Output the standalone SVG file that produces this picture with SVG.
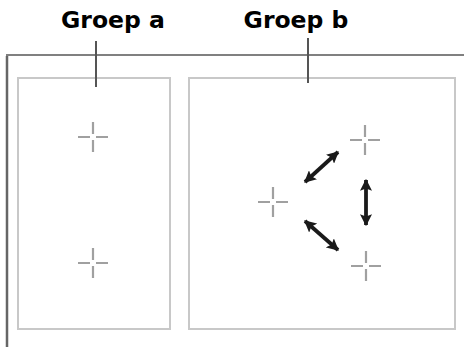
<svg xmlns="http://www.w3.org/2000/svg" width="464" height="347" viewBox="0 0 464 347">
<style>
.lbl{font-family:"DejaVu Sans",Verdana,sans-serif;font-weight:bold;font-size:23.5px;fill:#000;text-anchor:middle}
.box{fill:#fff;stroke:#c8c8c8;stroke-width:2}
.tick{stroke:#555;stroke-width:2}
.cross{stroke:#a0a0a0;stroke-width:2.2;fill:none}
.arr{stroke:#1a1a1a;stroke-width:3.8;fill:none;marker-start:url(#ah);marker-end:url(#ah)}
</style>
<defs>
<marker id="ah" viewBox="0 0 10 10" refX="9" refY="5" markerWidth="12" markerHeight="12" markerUnits="userSpaceOnUse" orient="auto-start-reverse">
<path d="M0,0 L10,5 L0,10 L2,5 z" fill="#1a1a1a"/>
</marker>
<g id="cr">
<path class="cross" d="M-15,0 H-3 M3,0 H15 M0,-15 V-3 M0,3 V15"/>
</g>
</defs>
<rect width="464" height="347" fill="#fff"/>
<g id="frame">
<path d="M7,347 V55 H464" fill="none" stroke="#808080" stroke-width="2"/>
<path d="M7,347 V56" fill="none" stroke="#666" stroke-width="2.5"/>
</g>
<g id="groep-a">
<rect class="box" x="18" y="78" width="152" height="251"/>
<use href="#cr" x="93" y="137"/>
<use href="#cr" x="93" y="263"/>
</g>
<g id="groep-b">
<rect class="box" x="189" y="78" width="266" height="251"/>
<use href="#cr" x="365" y="140"/>
<use href="#cr" x="273" y="202"/>
<use href="#cr" x="366" y="266"/>
</g>
<g id="labels">
<line class="tick" x1="96" y1="41" x2="96" y2="87"/>
<line class="tick" x1="308" y1="38" x2="308" y2="83"/>
<text class="lbl" x="113" y="28">Groep a</text>
<text class="lbl" x="296" y="28">Groep b</text>
</g>
<g id="connectors">
<line class="arr" x1="305" y1="182" x2="338" y2="152"/>
<line class="arr" x1="305" y1="221" x2="338" y2="250"/>
<line class="arr" x1="366" y1="180" x2="366" y2="225"/>
</g>
</svg>
